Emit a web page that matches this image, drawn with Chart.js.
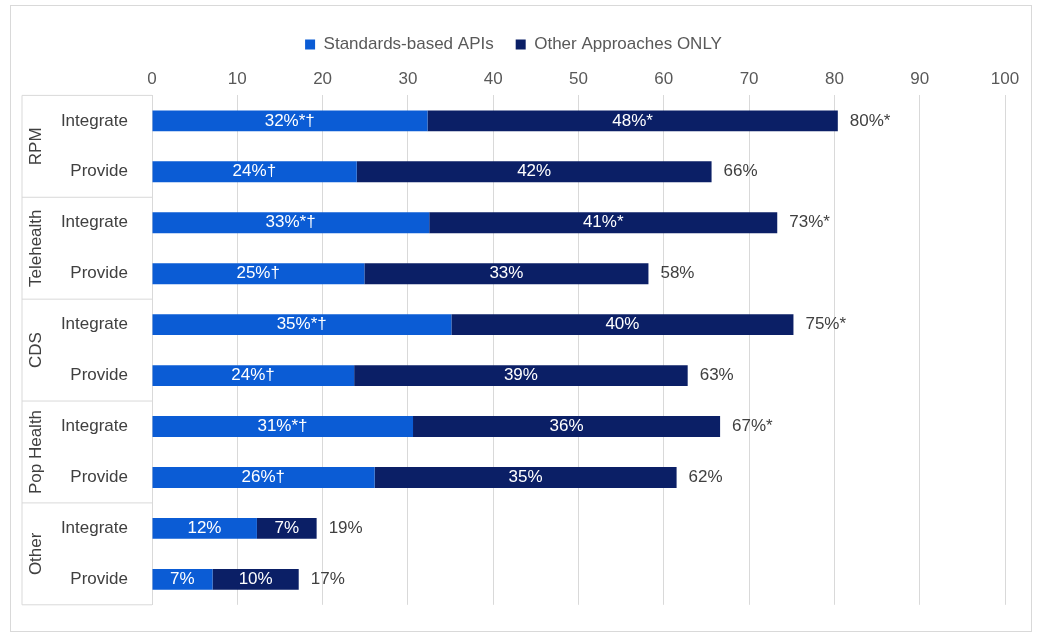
<!DOCTYPE html>
<html><head><meta charset="utf-8">
<script src="https://cdn.jsdelivr.net/npm/chart.js@4"></script>
<style>
body{margin:0;background:#fff;font-family:Arial,"Liberation Sans",sans-serif}
#box{position:absolute;left:10px;top:5px;width:1022px;height:627px;border:1px solid #d9d9d9;box-sizing:border-box}
</style></head><body>
<div id="box"><canvas id="c"></canvas></div>
<script>
// data
const groups = ["RPM", "Telehealth", "CDS", "Pop Health", "Other"];
const rows = ["Integrate", "Provide", "Integrate", "Provide", "Integrate", "Provide", "Integrate", "Provide", "Integrate", "Provide"];
const standardValues = [32.3, 24.0, 32.5, 24.9, 35.1, 23.7, 30.6, 26.1, 12.3, 7.1];
const otherValues = [48.1, 41.6, 40.8, 33.3, 40.1, 39.1, 36.0, 35.4, 7.0, 10.1];
const standardLabels = ["32%*†", "24%†", "33%*†", "25%†", "35%*†", "24%†", "31%*†", "26%†", "12%", "7%"];
const otherLabels = ["48%*", "42%", "41%*", "33%", "40%", "39%", "36%", "35%", "7%", "10%"];
const totalLabels = ["80%*", "66%", "73%*", "58%", "75%*", "63%", "67%*", "62%", "19%", "17%"];
const xTicks = [0, 10, 20, 30, 40, 50, 60, 70, 80, 90, 100];

const FONT = "Arial, 'Liberation Sans', sans-serif";

const labelPlugin = {
  id: "labels",
  afterDatasetsDraw(chart) {
    const ctx = chart.ctx;
    const x = chart.scales.x, y = chart.scales.y;
    ctx.save();
    ctx.font = "17px " + FONT;
    ctx.textBaseline = "middle";
    rows.forEach((r, i) => {
      const cy = y.getPixelForValue(i);
      const s = standardValues[i], o = otherValues[i];
      ctx.fillStyle = "#fff";
      ctx.textAlign = "center";
      ctx.fillText(standardLabels[i], x.getPixelForValue(s / 2), cy);
      ctx.fillText(otherLabels[i], x.getPixelForValue(s + o / 2), cy);
      ctx.fillStyle = "#404040";
      ctx.textAlign = "left";
      ctx.fillText(totalLabels[i], x.getPixelForValue(s + o) + 12, cy);
    });
    // group boxes on the left
    const left = chart.chartArea.left - 130;
    const right = chart.chartArea.left;
    const step = y.getPixelForValue(1) - y.getPixelForValue(0);
    ctx.strokeStyle = "#d9d9d9";
    ctx.lineWidth = 1;
    const top = y.getPixelForValue(0) - step / 2;
    const bottom = y.getPixelForValue(rows.length - 1) + step / 2;
    ctx.beginPath();
    ctx.moveTo(left, top); ctx.lineTo(left, bottom);
    for (let g = 0; g <= groups.length; g++) {
      const gy = top + g * 2 * step;
      ctx.moveTo(left, gy); ctx.lineTo(right, gy);
    }
    ctx.stroke();
    ctx.fillStyle = "#404040";
    ctx.textAlign = "center";
    groups.forEach((g, k) => {
      const gy = top + (k * 2 + 1) * step;
      ctx.save();
      ctx.translate(left + 14, gy);
      ctx.rotate(-Math.PI / 2);
      ctx.fillText(g, 0, 0);
      ctx.restore();
    });
    ctx.restore();
  }
};

new Chart(document.getElementById("c"), {
  type: "bar",
  data: {
    labels: rows,
    datasets: [
      { label: "Standards-based APIs", data: standardValues, backgroundColor: "#0B5CD5",
        barPercentage: 0.41, categoryPercentage: 1 },
      { label: "Other Approaches ONLY", data: otherValues, backgroundColor: "#0B1F66",
        barPercentage: 0.41, categoryPercentage: 1 }
    ]
  },
  options: {
    indexAxis: "y",
    responsive: true,
    maintainAspectRatio: false,
    animation: false,
    layout: { padding: { left: 11, right: 26, top: 8, bottom: 20 } },
    scales: {
      x: {
        position: "top", stacked: true, min: 0, max: 100,
        afterBuildTicks: (s) => { s.ticks = xTicks.map(v => ({ value: v })); },
        ticks: { color: "#595959", font: { size: 17, family: FONT }, padding: 6 },
        grid: { color: "#d9d9d9", drawTicks: false },
        border: { display: false }
      },
      y: {
        stacked: true,
        afterFit: (s) => { s.width = 130; },
        ticks: { color: "#404040", font: { size: 17, family: FONT }, padding: 16 },
        grid: { display: false },
        border: { color: "#d9d9d9" }
      }
    },
    plugins: {
      legend: {
        position: "top",
        labels: { color: "#595959", font: { size: 17, family: FONT }, boxWidth: 10, boxHeight: 10, padding: 22 }
      },
      tooltip: { enabled: false }
    }
  },
  plugins: [labelPlugin]
});
</script>
</body></html>
